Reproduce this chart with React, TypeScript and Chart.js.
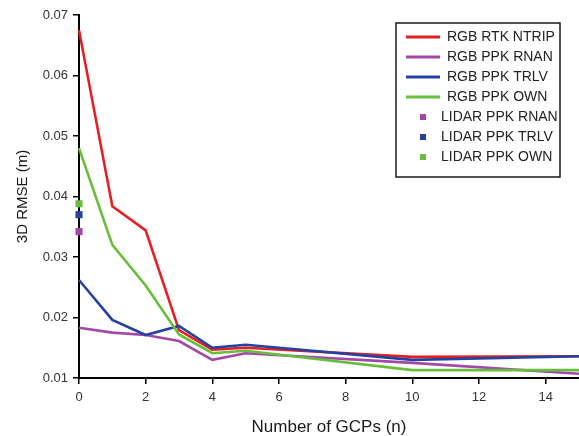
import React, { useEffect, useRef } from "react";
import { Chart, registerables } from "chart.js";

Chart.register(...registerables);

// ---- data ----
const gcps = [0, 1, 2, 3, 4, 5, 10, 15];
const rgbRtkNtrip = [0.0675, 0.0384, 0.0344, 0.0179, 0.0147, 0.015, 0.0135, 0.0136];
const rgbPpkRnan = [0.0183, 0.0175, 0.0171, 0.0161, 0.013, 0.0141, 0.0125, 0.0107];
const rgbPpkTrlv = [0.0262, 0.0196, 0.0171, 0.0186, 0.015, 0.0155, 0.013, 0.0136];
const rgbPpkOwn = [0.048, 0.032, 0.0253, 0.0172, 0.0141, 0.0145, 0.0113, 0.0113];
const lidarGcps = [0];
const lidarPpkRnan = [0.0342];
const lidarPpkTrlv = [0.037];
const lidarPpkOwn = [0.0388];
const xTickValues = [0, 2, 4, 6, 8, 10, 12, 14];
const yTickValues = [0.01, 0.02, 0.03, 0.04, 0.05, 0.06, 0.07];

const RED = "rgb(228,32,36)";
const PURPLE = "rgb(163,72,168)";
const BLUE = "rgb(36,66,160)";
const GREEN = "rgb(102,190,58)";
const FONT = '"Liberation Sans", Arial, sans-serif';

const zip = (xs: number[], ys: number[]) => xs.map((x, i) => ({ x, y: ys[i] }));

const legendBox = {
  id: "legendBox",
  afterDatasetsDraw(chart: any) {
    const ctx = chart.ctx as CanvasRenderingContext2D;
    const { right, top } = chart.chartArea;
    const w = 164;
    const h = 154;
    const x0 = right - 19 - w;
    const y0 = top + 8;
    ctx.save();
    ctx.fillStyle = "#fff";
    ctx.fillRect(x0, y0, w, h);
    ctx.strokeStyle = "#1a1a1a";
    ctx.lineWidth = 1.5;
    ctx.strokeRect(x0, y0, w, h);
    ctx.font = `14px ${FONT}`;
    ctx.textBaseline = "middle";
    ctx.textAlign = "left";
    chart.data.datasets.forEach((ds: any, i: number) => {
      const cy = y0 + 14 + i * 20;
      if (ds.showLine === false) {
        ctx.fillStyle = ds.backgroundColor;
        ctx.fillRect(x0 + 24, cy - 3, 6, 6);
        ctx.fillStyle = "#222";
        ctx.fillText(ds.label, x0 + 45, cy);
      } else {
        ctx.strokeStyle = ds.borderColor;
        ctx.lineWidth = 3;
        ctx.beginPath();
        ctx.moveTo(x0 + 10, cy);
        ctx.lineTo(x0 + 44, cy);
        ctx.stroke();
        ctx.fillStyle = "#222";
        ctx.fillText(ds.label, x0 + 51, cy);
      }
    });
    ctx.restore();
  },
};

export default function App() {
  const ref = useRef<HTMLCanvasElement | null>(null);

  useEffect(() => {
    if (!ref.current) return;
    const line = (label: string, ys: number[], color: string, order: number) => ({
      label,
      data: zip(gcps, ys),
      borderColor: color,
      backgroundColor: color,
      borderWidth: 2.6,
      pointRadius: 0,
      tension: 0,
      clip: false as any,
      order,
    });
    const pts = (label: string, ys: number[], color: string) => ({
      label,
      data: zip(lidarGcps, ys),
      showLine: false,
      borderColor: color,
      backgroundColor: color,
      borderWidth: 0,
      pointStyle: "rect",
      pointRadius: 5,
      clip: false as any,
      order: 0,
    });
    const chart = new Chart(ref.current, {
      type: "line",
      data: {
        datasets: [
          line("RGB RTK NTRIP", rgbRtkNtrip, RED, 3),
          line("RGB PPK RNAN", rgbPpkRnan, PURPLE, 4),
          line("RGB PPK TRLV", rgbPpkTrlv, BLUE, 2),
          line("RGB PPK OWN", rgbPpkOwn, GREEN, 1),
          pts("LIDAR PPK RNAN", lidarPpkRnan, PURPLE),
          pts("LIDAR PPK TRLV", lidarPpkTrlv, BLUE),
          pts("LIDAR PPK OWN", lidarPpkOwn, GREEN),
        ] as any,
      },
      options: {
        animation: false,
        responsive: true,
        maintainAspectRatio: false,
        layout: { padding: { top: 15, right: 0, left: 0, bottom: 0 } },
        plugins: { legend: { display: false }, tooltip: { enabled: false } },
        scales: {
          x: {
            type: "linear",
            min: 0,
            max: 15,
            afterBuildTicks: (s: any) => {
              s.ticks = xTickValues.map((v) => ({ value: v }));
            },
            afterFit: (s: any) => {
              s.height = 58;
              s.paddingLeft = 0;
              s.paddingRight = 0;
            },
            grid: { display: true, drawOnChartArea: false, drawTicks: true, tickLength: 6, color: "#000", lineWidth: 1.5 },
            border: { display: true, color: "#000", width: 2 },
            ticks: { color: "#333", font: { family: FONT, size: 13 }, padding: 6, maxRotation: 0 },
            title: {
              display: true,
              text: "Number of GCPs (n)",
              color: "#1a1a1a",
              font: { family: FONT, size: 17, lineHeight: 1 },
              padding: { top: 0, bottom: 0 },
            },
          },
          y: {
            type: "linear",
            min: 0.01,
            max: 0.07,
            afterBuildTicks: (s: any) => {
              s.ticks = yTickValues.map((v) => ({ value: v }));
            },
            afterFit: (s: any) => {
              s.width = 79;
              s.paddingTop = 0;
              s.paddingBottom = 0;
            },
            grid: { display: true, drawOnChartArea: false, drawTicks: true, tickLength: 6, color: "#000", lineWidth: 1.5 },
            border: { display: true, color: "#000", width: 2 },
            ticks: {
              color: "#333",
              font: { family: FONT, size: 13 },
              padding: 5,
              callback: (v: any) => Number(v).toFixed(2),
            },
            title: {
              display: true,
              text: "3D RMSE (m)",
              color: "#1a1a1a",
              font: { family: FONT, size: 15, lineHeight: 1 },
              padding: { top: 15, bottom: 0 },
            },
          },
        },
      },
      plugins: [legendBox],
    });
    return () => chart.destroy();
  }, []);

  return (
    <div style={{ position: "fixed", left: 0, top: 0, width: 584, height: 436, overflow: "hidden" }}>
      <canvas ref={ref} />
    </div>
  );
}
